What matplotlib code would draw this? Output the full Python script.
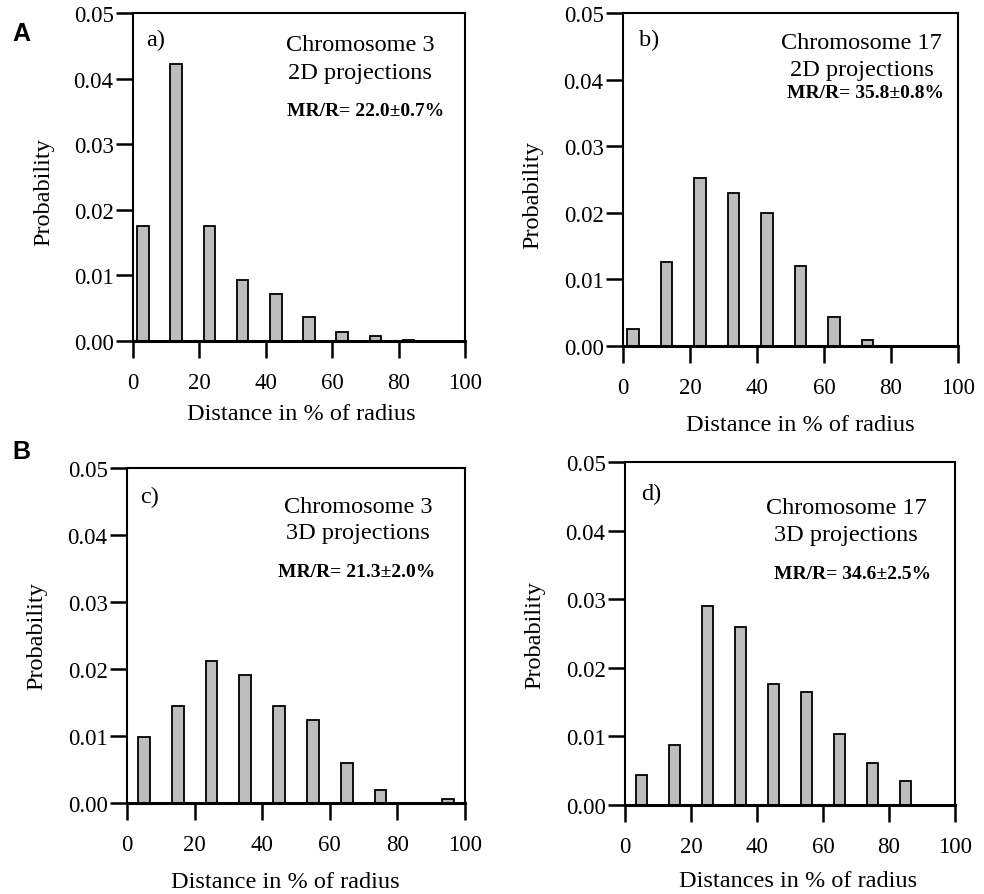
import matplotlib
matplotlib.use("Agg")
import matplotlib.pyplot as plt
import numpy as np

plt.rcParams['font.family'] = ['Liberation Serif', 'DejaVu Serif']

# Data
bins_2d = [3, 13, 23, 33, 43, 53, 63, 73, 83]
bins_3d = [5, 15, 25, 35, 45, 55, 65, 75, 85, 95]
prob_a = [0.0176, 0.0423, 0.0176, 0.0093, 0.0071, 0.0036, 0.0014, 0.0007, 0.0002]
prob_b = [0.0025, 0.0126, 0.0253, 0.0229, 0.0199, 0.0120, 0.0043, 0.0009, 0.0]
prob_c = [0.0098, 0.0145, 0.0212, 0.0191, 0.0145, 0.0124, 0.0060, 0.0019, 0.0, 0.0006]
prob_d = [0.0044, 0.0088, 0.0290, 0.0260, 0.0176, 0.0165, 0.0104, 0.0061, 0.0035, 0.0]

yticks = [0.00, 0.01, 0.02, 0.03, 0.04, 0.05]
ytick_labels = ["0.00", "0.01", "0.02", "0.03", "0.04", "0.05"]
xticks = [0, 20, 40, 60, 80, 100]

W, H = 984, 895
fig = plt.figure(figsize=(W / 100, H / 100), dpi=100)

def px_axes(l, r, t, b):
    return fig.add_axes([l / W, 1 - b / H, (r - l) / W, (b - t) / H])

panels = [
    dict(box=(133, 465, 14, 342), x=bins_2d, y=prob_a, tag="a)", tagpos=(0.041, 0.92),
         l1="Chromosome 3", l2="2D projections", cx=0.684, y1=0.905, y2=0.82,
         mr="MR/R= 22.0±0.7%", mrpos=(0.70, 0.704),
         xl="Distance in % of radius", xlc=(0.506, -0.222), ylc=(-0.27, 0.456)),
    dict(box=(623, 958, 14, 347), x=bins_2d, y=prob_b, tag="b)", tagpos=(0.048, 0.92),
         l1="Chromosome 17", l2="2D projections", cx=0.713, y1=0.91, y2=0.83,
         mr="MR/R= 35.8±0.8%", mrpos=(0.725, 0.760),
         xl="Distance in % of radius", xlc=(0.528, -0.235), ylc=(-0.268, 0.456)),
    dict(box=(127, 465, 469, 804), x=bins_3d, y=prob_c, tag="c)", tagpos=(0.039, 0.916),
         l1="Chromosome 3", l2="3D projections", cx=0.684, y1=0.885, y2=0.806,
         mr="MR/R= 21.3±2.0%", mrpos=(0.68, 0.691),
         xl="Distance in % of radius", xlc=(0.468, -0.235), ylc=(-0.266, 0.50)),
    dict(box=(625, 955, 463, 806), x=bins_3d, y=prob_d, tag="d)", tagpos=(0.05, 0.907),
         l1="Chromosome 17", l2="3D projections", cx=0.67, y1=0.867, y2=0.788,
         mr="MR/R= 34.6±2.5%", mrpos=(0.69, 0.674),
         xl="Distances in % of radius", xlc=(0.523, -0.219), ylc=(-0.273, 0.499)),
]

for p in panels:
    ax = px_axes(*p["box"])
    ax.bar(p["x"], p["y"], width=3.5, color="#bdbdbd", edgecolor="black", linewidth=1.3, zorder=2)
    ax.set_xlim(0, 100)
    ax.set_ylim(0, 0.05)
    ax.set_xticks(xticks)
    ax.set_xticklabels([str(t) for t in xticks])
    ax.set_yticks(yticks)
    ax.set_yticklabels(ytick_labels)
    ax.tick_params(direction="out", length=12, width=1.8, labelsize=16.5, color="black")
    ax.tick_params(axis="x", pad=10)
    ax.tick_params(axis="y", pad=2)
    for s in ["top", "right", "left"]:
        ax.spines[s].set_linewidth(1.5)
    ax.spines["bottom"].set_linewidth(2.2)
    ax.spines["bottom"].set_zorder(3)
    ax.set_ylabel("Probability", fontsize=17.5)
    ax.yaxis.label.set_verticalalignment("center")
    ax.yaxis.set_label_coords(*p["ylc"])
    ax.set_xlabel(p["xl"], fontsize=17.5)
    ax.xaxis.label.set_verticalalignment("center")
    ax.xaxis.set_label_coords(*p["xlc"])
    ax.text(p["tagpos"][0], p["tagpos"][1], p["tag"], transform=ax.transAxes,
            fontsize=17.5, ha="left", va="center")
    ax.text(p["cx"], p["y1"], p["l1"], transform=ax.transAxes, fontsize=17.5, ha="center", va="center")
    ax.text(p["cx"], p["y2"], p["l2"], transform=ax.transAxes, fontsize=17.5, ha="center", va="center")
    ax.text(p["mrpos"][0], p["mrpos"][1], p["mr"], transform=ax.transAxes, fontsize=14,
            fontweight="bold", ha="center", va="center")

fig.text(12 / W, 1 - 34 / H, "A", fontsize=18, fontweight="bold", family="Liberation Sans",
         ha="left", va="center")
fig.text(12 / W, 1 - 452 / H, "B", fontsize=18, fontweight="bold", family="Liberation Sans",
         ha="left", va="center")

fig.savefig("out.png", dpi=100)
